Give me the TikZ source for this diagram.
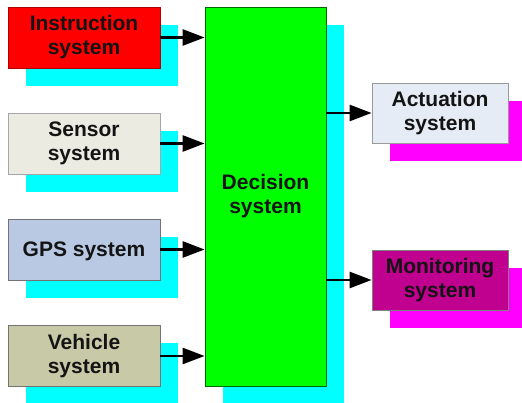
\documentclass[tikz,border=0pt]{standalone}
\usepackage{fontspec}
\setmainfont{Liberation Sans}
\usetikzlibrary{arrows.meta,shadows}

\definecolor{instrfill}{HTML}{FF0000}
\definecolor{instrline}{HTML}{B00000}
\definecolor{sensfill}{HTML}{EBEBE1}
\definecolor{gpsfill}{HTML}{B9C9E4}
\definecolor{vehfill}{HTML}{C8C9A7}
\definecolor{decfill}{HTML}{00FF00}
\definecolor{actfill}{HTML}{E6ECF5}
\definecolor{monfill}{HTML}{C0008E}
\definecolor{shadecyan}{HTML}{00FFFF}
\definecolor{shademag}{HTML}{FF00FF}

\tikzset{
  sysbox/.style={draw=gray!80, line width=0.8pt, align=center, inner sep=0pt,
    font=\fontsize{21}{24}\selectfont\bfseries, text=black!92,
    execute at begin node=\rule{0pt}{19pt}},
  leftbox/.style={sysbox, minimum width=152pt, minimum height=61pt,
    drop shadow={shadow xshift=18pt, shadow yshift=-18pt, fill=shadecyan, opacity=1}},
  rightbox/.style={sysbox, minimum width=136pt, minimum height=60pt,
    drop shadow={shadow xshift=18pt, shadow yshift=-18pt, fill=shademag, opacity=1}},
  link/.style={line width=2.6pt, -{Triangle[length=22pt,width=16pt]}}
}

\begin{document}
\begin{tikzpicture}[x=1pt,y=1pt]
\useasboundingbox (0,0) rectangle (522,403);
\begin{scope}
\clip (0,0) rectangle (522,403);

% input subsystems
\node[leftbox, fill=instrfill, draw=instrline] (instr) at (84,365.5) {Instruction\\system};
\node[leftbox, fill=sensfill, draw=gray!70] (sens) at (84,259.5) {Sensor\\system};
\node[leftbox, fill=gpsfill, draw=black!55] (gps) at (84,153.5) {GPS system};
\node[leftbox, fill=vehfill, draw=black!55] (veh) at (84,47) {Vehicle\\system};

% central decision block
\node[sysbox, fill=decfill, draw=green!40!black, minimum width=121pt, minimum height=379pt,
  drop shadow={shadow xshift=18pt, shadow yshift=-18pt, fill=shadecyan, opacity=1}]
  (dec) at (265.5,206.5) {Decision\\system};

% output subsystems
\node[rightbox, fill=actfill, draw=gray!80] (act) at (440,290) {Actuation\\system};
\node[rightbox, fill=monfill, draw=black!50] (mon) at (440,123) {Monitoring\\system};

% connectors
\draw[link] (instr.east) -- (instr.east -| dec.west);
\draw[link] (sens.east) -- (sens.east -| dec.west);
\draw[link] (gps.east) -- (gps.east -| dec.west);
\draw[link] (veh.east) -- (veh.east -| dec.west);
\draw[link] (act.west -| dec.east) -- (act.west);
\draw[link] (mon.west -| dec.east) -- (mon.west);
\end{scope}
\end{tikzpicture}
\end{document}
